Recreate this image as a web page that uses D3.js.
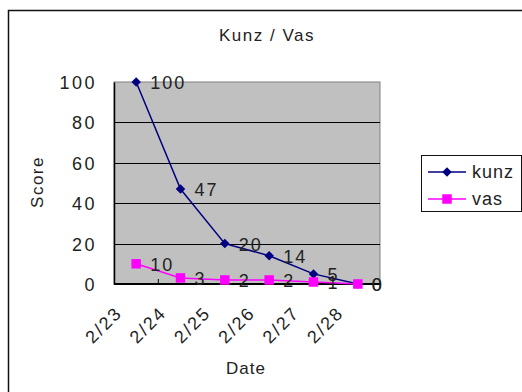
<!DOCTYPE html>
<html lang="en">
<head>
<meta charset="UTF-8">
<title>Kunz / Vas</title>
<style>
    body { margin: 0; background: #fff; }
    svg text { fill: #222; font-family: "Liberation Sans", Arial, sans-serif; }
</style>
</head>
<body>
<svg id="chart" width="522" height="392"></svg>
<script src="https://d3js.org/d3.v7.min.js"></script>
<script>
// chart data
const dates = ["2/23", "2/24", "2/25", "2/26", "2/27", "2/28"];
const kunz = [100, 47, 20, 14, 5, 0];
const vas = [10, 3, 2, 2, 1, 0];
const yTicks = [0, 20, 40, 60, 80, 100];

const svg = d3.select("#chart");

// outer frame
svg.append("rect")
    .attr("x", 8.5).attr("y", 10.5)
    .attr("width", 530).attr("height", 400)
    .attr("fill", "none").attr("stroke", "#111").attr("stroke-width", 1.5);

const plot = { left: 114, right: 380, top: 82, bottom: 284 };

const x = d3.scaleBand().domain(dates).range([plot.left, plot.right]);
const y = d3.scaleLinear().domain([0, 100]).range([plot.bottom, plot.top]);

// plot area
svg.append("rect")
    .attr("x", plot.left).attr("y", plot.top)
    .attr("width", plot.right - plot.left).attr("height", plot.bottom - plot.top)
    .attr("fill", "#c0c0c0").attr("stroke", "#808080");

// gridlines
svg.append("g").selectAll("line")
    .data(yTicks.filter(d => d > 0 && d < 100))
    .join("line")
    .attr("x1", plot.left).attr("x2", plot.right)
    .attr("y1", d => Math.round(y(d)) + 0.5).attr("y2", d => Math.round(y(d)) + 0.5)
    .attr("stroke", "#000");

// y axis
const yAxis = svg.append("g")
    .attr("transform", `translate(${plot.left},0)`)
    .call(d3.axisLeft(y).tickValues(yTicks).tickSize(0).tickPadding(17));
yAxis.select(".domain").attr("stroke", "#000").attr("stroke-width", 1.5);
yAxis.selectAll("text")
    .style("font-size", "18px").style("letter-spacing", "2.5px")
    .style("font-family", "Liberation Sans, Arial, sans-serif")
    .attr("dy", "0.36em")
    .attr("fill", "#222");

// x axis line
svg.append("line")
    .attr("x1", plot.left).attr("x2", plot.right)
    .attr("y1", plot.bottom).attr("y2", plot.bottom)
    .attr("stroke", "#000").attr("stroke-width", 2);
svg.append("line")
    .attr("x1", x(dates[1])).attr("x2", x(dates[1]))
    .attr("y1", plot.bottom - 5).attr("y2", plot.bottom)
    .attr("stroke", "#000");

// x tick labels, rotated
svg.append("g").selectAll("text")
    .data(dates)
    .join("text")
    .attr("transform", d => `translate(${x(d) + x.bandwidth() / 2 - 13},${plot.bottom + 30}) rotate(-45)`)
    .attr("text-anchor", "end")
    .style("font-size", "18px")
    .style("letter-spacing", "2px")
    .text(d => d);

// titles
svg.append("text")
    .attr("x", 267).attr("y", 41)
    .attr("text-anchor", "middle")
    .style("font-size", "17px")
    .style("letter-spacing", "1.5px")
    .text("Kunz / Vas");

svg.append("text")
    .attr("transform", "translate(43,182) rotate(-90)")
    .attr("text-anchor", "middle")
    .style("font-size", "17px")
    .style("letter-spacing", "1.5px")
    .text("Score");

svg.append("text")
    .attr("x", 246).attr("y", 374)
    .attr("text-anchor", "middle")
    .style("font-size", "17px")
    .style("letter-spacing", "1px")
    .text("Date");

// series
const series = [
    { name: "kunz", values: kunz, color: "#000080", shape: d3.symbolSquare, size: 45, rot: 45 },
    { name: "vas", values: vas, color: "#ff00ff", shape: d3.symbolSquare, size: 90, rot: 0 }
];

const cx = d => x(d) + x.bandwidth() / 2;

series.forEach(s => {
    const pts = dates.map((d, i) => [cx(d), y(s.values[i])]);
    svg.append("path")
        .attr("d", d3.line()(pts))
        .attr("fill", "none")
        .attr("stroke", s.color)
        .attr("stroke-width", 1.5);
    svg.append("g").selectAll("path")
        .data(pts)
        .join("path")
        .attr("transform", p => `translate(${p[0]},${p[1]}) rotate(${s.rot})`)
        .attr("d", d3.symbol().type(s.shape).size(s.size))
        .attr("fill", s.color);
});

// value labels
series.forEach(s => {
    svg.append("g").selectAll("text")
        .data(dates)
        .join("text")
        .attr("x", d => cx(d) + 14)
        .attr("y", (d, i) => y(s.values[i]) + 7)
        .style("font-size", "18px")
        .style("letter-spacing", "2px")
        .text((d, i) => s.values[i]);
});

// legend
const legend = svg.append("g").attr("transform", "translate(421,155)");
legend.append("rect")
    .attr("x", 0.5).attr("y", 0.5).attr("width", 100).attr("height", 56)
    .attr("fill", "#fff").attr("stroke", "#111");
series.forEach((s, i) => {
    const ly = 17 + i * 27;
    legend.append("line")
        .attr("x1", 7).attr("x2", 45).attr("y1", ly).attr("y2", ly)
        .attr("stroke", s.color).attr("stroke-width", 1.5);
    legend.append("path")
        .attr("transform", `translate(26,${ly}) rotate(${s.rot})`)
        .attr("d", d3.symbol().type(s.shape).size(s.size))
        .attr("fill", s.color);
    legend.append("text")
        .attr("x", 51).attr("y", ly + 6)
        .style("font-size", "18px")
        .style("letter-spacing", "1px")
        .text(s.name);
});
</script>
</body>
</html>
